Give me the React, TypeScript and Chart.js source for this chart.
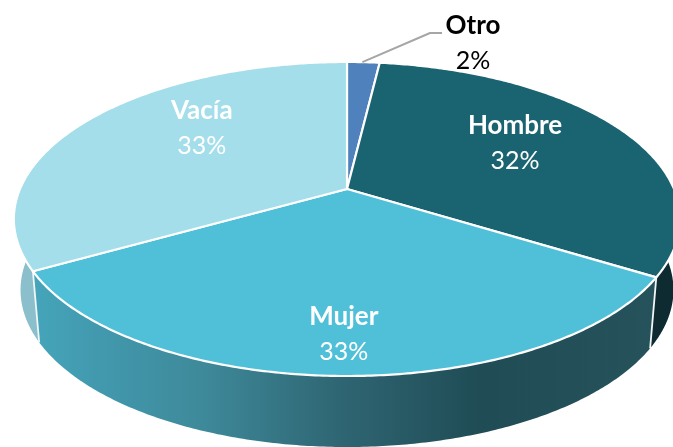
import React, { useEffect, useRef } from "react";
import { Chart, registerables } from "chart.js";

Chart.register(...registerables);

const categories = ["Otro", "Hombre", "Mujer", "Vacía"];
const shares = [1.9, 31.9, 33.0, 33.2];
const percentLabels = ["2%", "32%", "33%", "33%"];
const faceColors = ["#4f81bd", "#1a6371", "#4fc0d8", "#a3deea"];
const wallColors = ["#3f6690", "#0d2b31", "", "#8bbfcc"];
const mujerWallStops: [number, string][] = [
  [0, "#45a5ba"],
  [0.1, "#4299ae"],
  [0.267, "#3e8a9b"],
  [0.49, "#2f6673"],
  [0.72, "#1f4c55"],
  [1, "#25525b"],
];

// projective view of the pie disc
const VIEW = { cx: 347, cy: 189, a: 327, b: 151.3, k: 0.191, depth: 71, shrink: 0.98 };
// label placement, as radius fraction and angular shift from slice middle (deg)
const labelRadius = [0, 0.635, 0.81, 0.65];
const labelShift = [0, -5, -0.5, 12];

function project(angle: number, r = 1) {
  const u = Math.cos(angle) * r;
  const v = Math.sin(angle) * r;
  const w = 1 - VIEW.k * v;
  return { x: VIEW.cx + (VIEW.a * u) / w, y: VIEW.cy + (VIEW.b * v) / w };
}
function lower(p: { x: number; y: number }) {
  return { x: VIEW.cx + (p.x - VIEW.cx) * VIEW.shrink, y: p.y + VIEW.depth };
}
function arcPoints(start: number, end: number) {
  const n = Math.max(2, Math.ceil((end - start) / 0.01));
  const pts = [];
  for (let i = 0; i <= n; i++) pts.push(project(start + ((end - start) * i) / n));
  return pts;
}

const pie3d = {
  id: "pie3d",
  beforeDatasetsDraw(chart: any) {
    const ctx: CanvasRenderingContext2D = chart.ctx;
    const arcs = chart.getDatasetMeta(0).data as any[];
    ctx.save();
    ctx.lineJoin = "round";

    // walls
    const order = [0, 1, 3, 2];
    order.forEach((i) => {
      const el = arcs[i];
      const pts = arcPoints(el.startAngle, el.endAngle);
      ctx.beginPath();
      pts.forEach((p, j) => (j ? ctx.lineTo(p.x, p.y) : ctx.moveTo(p.x, p.y)));
      pts.slice().reverse().forEach((p) => {
        const q = lower(p);
        ctx.lineTo(q.x, q.y);
      });
      ctx.closePath();
      if (wallColors[i]) {
        ctx.fillStyle = wallColors[i];
      } else {
        const g = ctx.createLinearGradient(34, 0, 655, 0);
        mujerWallStops.forEach(([o, c]) => g.addColorStop(o, c));
        ctx.fillStyle = g;
      }
      ctx.fill();
    });

    // wall dividers at the front
    ctx.strokeStyle = "#f2f6f7";
    ctx.lineWidth = 1.8;
    [arcs[1].endAngle, arcs[2].endAngle].forEach((ang) => {
      const p = project(ang);
      const q = lower(p);
      ctx.beginPath();
      ctx.moveTo(p.x, p.y);
      ctx.lineTo(q.x, q.y);
      ctx.stroke();
    });

    // top faces
    arcs.forEach((el) => {
      const pts = arcPoints(el.startAngle, el.endAngle);
      ctx.beginPath();
      ctx.moveTo(VIEW.cx, VIEW.cy);
      pts.forEach((p) => ctx.lineTo(p.x, p.y));
      ctx.closePath();
      ctx.fillStyle = el.options.backgroundColor;
      ctx.fill();
      ctx.strokeStyle = "#ffffff";
      ctx.lineWidth = 2.2;
      ctx.stroke();
    });

    // leader line for the smallest slice
    ctx.strokeStyle = "#a6a6a6";
    ctx.lineWidth = 2;
    const mid0 = project((arcs[0].startAngle + arcs[0].endAngle) / 2, 1);
    ctx.beginPath();
    ctx.moveTo(mid0.x - 1, mid0.y);
    ctx.lineTo(430, 33);
    ctx.lineTo(442, 33);
    ctx.stroke();

    // labels
    ctx.textAlign = "center";
    ctx.textBaseline = "middle";
    arcs.forEach((el, i) => {
      let x = 473;
      let yName = 26;
      let yPct = 61;
      let color = "#000000";
      if (i > 0) {
        const mid = (el.startAngle + el.endAngle) / 2 + (labelShift[i] * Math.PI) / 180;
        const p = project(mid, labelRadius[i]);
        x = p.x;
        yName = p.y - 17;
        yPct = p.y + 18;
        color = "#ffffff";
      }
      ctx.fillStyle = color;
      ctx.font = "bold 26px Lato, 'Open Sans', sans-serif";
      ctx.fillText(categories[i], x, yName);
      ctx.font = "25px Lato, 'Open Sans', sans-serif";
      ctx.fillText(percentLabels[i], x, yPct);
    });
    ctx.restore();
    return false;
  },
};

export default function App() {
  const ref = useRef<HTMLCanvasElement>(null);
  useEffect(() => {
    document.body.style.margin = "0";
    const chart = new Chart(ref.current!, {
      type: "pie",
      data: {
        labels: categories,
        datasets: [{ data: shares, backgroundColor: faceColors, borderWidth: 0 }],
      },
      options: {
        animation: false,
        responsive: false,
        plugins: { legend: { display: false }, tooltip: { enabled: false } },
      },
      plugins: [pie3d],
    } as any);
    return () => chart.destroy();
  }, []);
  return (
    <div style={{ width: 673, height: 447, background: "#fff" }}>
      <canvas ref={ref} width={673} height={447} style={{ display: "block" }} />
    </div>
  );
}
